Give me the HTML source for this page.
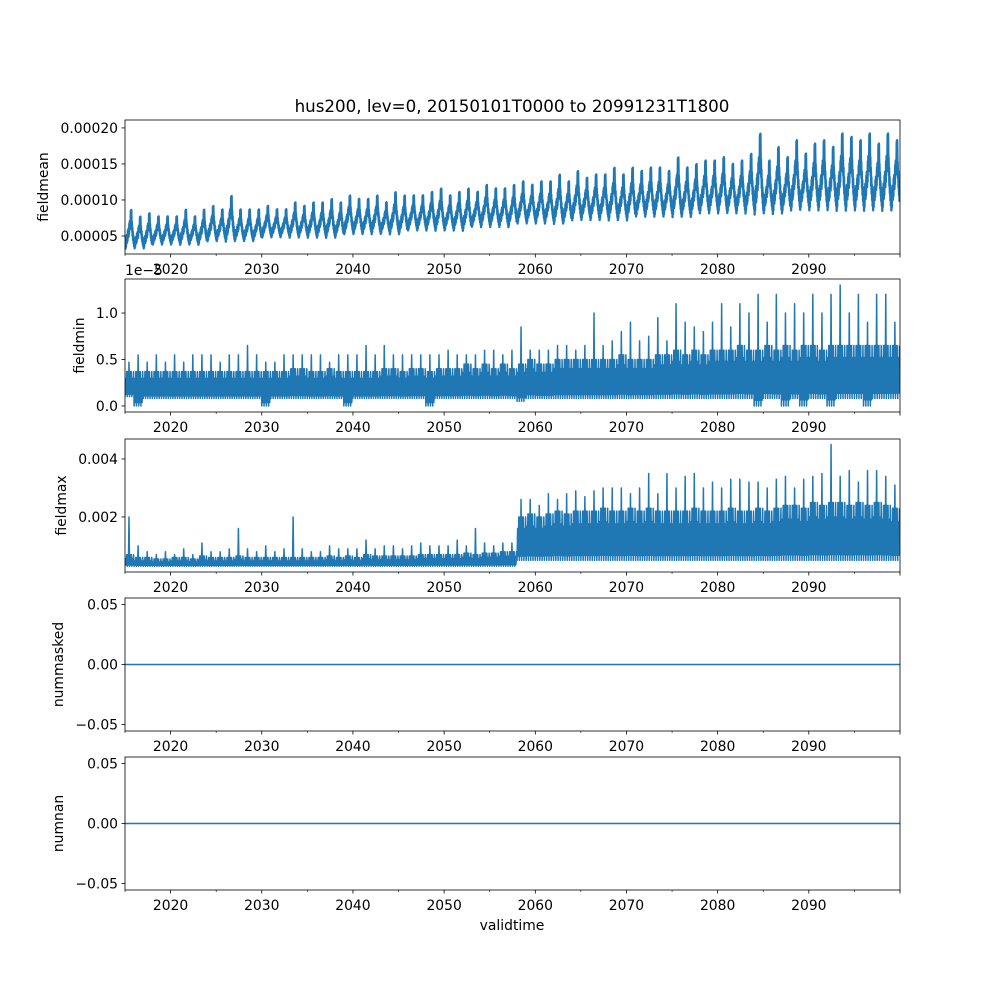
<!DOCTYPE html>
<html><head><meta charset="utf-8"><style>
html,body{margin:0;padding:0;background:#fff}
svg{display:block;font-family:"DejaVu Sans","Liberation Sans",sans-serif}
</style></head><body>
<svg id="fig" width="1000" height="1000" viewBox="0 0 1000 1000"></svg>
<script>
// per-year data, 2015..2099
const startYear = 2015;
const xTicks = [2020,2030,2040,2050,2060,2070,2080,2090];
// fieldmean (units 1e-5)
const p1Max = [9,8,8.5,8,8,8,9,8,9,9.5, 9,11,9,9,9,9.5,9,9,10,9.5, 10,10,10.5,10,11,10.5,10.5,11,10,11.5, 11,11,11,11.5,12,11,11.5,12,11.5,12.5, 12,12,12.5,13,12.5,13,13,14,13,14.5, 13.5,14,14,15,14,15,14.5,15,15,14.5, 16.5,15,15.5,16,16,16.5,15.5,16,17,20, 16,18,16.5,19,17,18.5,19,18,20,19.5, 19,20,18.5,20,19];
const p1Min = [3.5,3.5,3.5,4,4,4,4,4,4,4.5, 4.5,4.5,4.5,4.5,4.5,5,5,5,5,5, 5,5,5,5,5.5,5.5,5.5,5.5,5.5,5.5, 5.5,6,6,6,6,6,6,6,6.5,6.5, 6.5,6.5,6.5,7,7,7,7,7,7,7.5, 7.5,7.5,7.5,7.5,7.5,7.5,8,8,8,8, 8,8,8,8.5,8.5,8.5,8.5,8.5,8.5,8.5, 8.5,8.5,8.5,9,9,9,9,9,9,9, 9,9,9,9,9];
// fieldmin (units 1e-5)
const p2Lo = [0.1,0.0,0.08,0.08,0.08,0.08,0.08,0.08,0.08,0.08, 0.08,0.08,0.08,0.08,0.08,0.0,0.08,0.08,0.08,0.08, 0.08,0.08,0.08,0.08,0.0,0.08,0.08,0.08,0.08,0.08, 0.08,0.08,0.08,0.0,0.08,0.08,0.08,0.08,0.08,0.08, 0.08,0.08,0.08,0.05,0.08,0.08,0.08,0.08,0.08,0.08, 0.08,0.08,0.08,0.08,0.08,0.08,0.08,0.08,0.08,0.08, 0.08,0.08,0.08,0.08,0.08,0.08,0.08,0.08,0.08,0.0, 0.08,0.08,0.0,0.08,0.0,0.08,0.08,0.0,0.08,0.08, 0.08,0.0,0.08,0.08,0.08];
const p2Hi = [0.37,0.37,0.37,0.37,0.37,0.37,0.37,0.37,0.37,0.37, 0.37,0.37,0.37,0.37,0.37,0.37,0.37,0.37,0.4,0.4, 0.37,0.37,0.4,0.37,0.37,0.37,0.37,0.37,0.4,0.4, 0.37,0.4,0.4,0.37,0.4,0.4,0.4,0.45,0.4,0.45, 0.4,0.45,0.4,0.45,0.5,0.45,0.45,0.5,0.5,0.5, 0.5,0.5,0.5,0.5,0.55,0.5,0.5,0.5,0.55,0.55, 0.6,0.55,0.6,0.55,0.6,0.6,0.6,0.65,0.6,0.6, 0.65,0.6,0.65,0.6,0.65,0.65,0.6,0.65,0.65,0.65, 0.65,0.65,0.65,0.65,0.65];
const p2Spike = [0.47,0.55,0.47,0.55,0.47,0.55,0.47,0.55,0.55,0.55, 0.47,0.55,0.55,0.65,0.55,0.47,0.47,0.55,0.55,0.55, 0.55,0.55,0.47,0.55,0.55,0.55,0.65,0.55,0.65,0.55, 0.55,0.55,0.55,0.55,0.55,0.6,0.55,0.55,0.55,0.6, 0.6,0.55,0.6,0.85,0.6,0.6,0.6,0.65,0.65,0.6, 0.65,1.0,0.65,0.7,0.8,0.9,0.7,0.75,0.95,0.7, 1.1,0.9,0.85,0.8,0.9,1.1,0.85,1.1,1.0,1.2, 0.9,1.2,1.0,1.1,1.0,1.2,1.0,1.2,1.3,1.0, 1.2,0.9,1.2,1.2,0.9];
// fieldmax (units 1e-3)
const p3Lo = [0.3,0.3,0.3,0.3,0.3,0.3,0.3,0.3,0.3,0.3, 0.3,0.3,0.3,0.3,0.3,0.3,0.3,0.3,0.3,0.3, 0.3,0.3,0.3,0.3,0.3,0.3,0.3,0.3,0.3,0.3, 0.3,0.3,0.3,0.3,0.3,0.3,0.3,0.3,0.3,0.3, 0.3,0.3,0.3,0.5,0.5,0.5,0.5,0.5,0.5,0.5, 0.5,0.5,0.5,0.5,0.5,0.5,0.5,0.5,0.5,0.5, 0.5,0.5,0.5,0.5,0.5,0.5,0.5,0.5,0.5,0.5, 0.5,0.5,0.5,0.5,0.5,0.5,0.5,0.5,0.5,0.5, 0.5,0.5,0.5,0.5,0.5];
const p3Hi = [0.7,0.6,0.6,0.55,0.55,0.6,0.6,0.55,0.65,0.6, 0.6,0.6,0.65,0.6,0.6,0.6,0.6,0.6,0.6,0.6, 0.6,0.6,0.65,0.6,0.65,0.6,0.7,0.65,0.65,0.65, 0.65,0.65,0.7,0.7,0.7,0.7,0.7,0.75,0.7,0.75, 0.75,0.8,0.8,2.0,2.1,2.0,2.1,2.2,2.1,2.2, 2.2,2.2,2.3,2.2,2.2,2.3,2.2,2.3,2.2,2.2, 2.2,2.2,2.3,2.2,2.2,2.2,2.3,2.2,2.2,2.3, 2.2,2.3,2.4,2.4,2.3,2.5,2.4,2.5,2.5,2.4, 2.5,2.4,2.5,2.4,2.3];
const p3Spike = [2.0,1.0,0.8,0.7,0.8,0.7,0.9,0.7,1.1,0.8, 0.8,0.9,1.6,0.9,0.8,1.0,0.8,0.9,2.0,0.9, 0.8,0.8,1.0,0.9,0.9,0.9,1.2,0.9,1.0,1.0, 0.9,1.0,1.1,1.0,1.0,1.0,1.2,1.0,1.6,1.1, 1.0,1.1,1.1,2.6,2.6,2.4,2.8,2.6,2.8,2.9, 2.7,2.9,3.0,3.0,3.0,2.8,3.0,3.5,2.8,3.5, 3.0,3.4,3.5,3.0,3.2,3.0,3.3,3.3,3.2,3.2, 3.0,3.3,3.4,3.0,3.3,3.4,3.5,4.5,3.4,3.6, 3.2,3.6,3.6,3.4,3.1];
const zeroSeries = [0,0];

const NS='http://www.w3.org/2000/svg';
const svg=document.getElementById('fig');
const C='#1f77b4';
const L=125,R=900;
const FS=13.9;
function X(yr){return L+(yr-2015)/85*(R-L);}
function mk(tag,attrs,parent){const e=document.createElementNS(NS,tag);for(const k in attrs)e.setAttribute(k,attrs[k]);(parent||svg).appendChild(e);return e;}

const panels=[
 {name:'fieldmean',top:120,bot:254,ymin:2.5,ymax:21.1,ticks:[5,10,15,20],fmt:v=>(v*1e-5).toFixed(5),lx:48},
 {name:'fieldmin',top:279,bot:412,ymin:-0.065,ymax:1.366,ticks:[0,0.5,1.0],fmt:v=>v.toFixed(1),lx:84},
 {name:'fieldmax',top:439,bot:572,ymin:0.1,ymax:4.69,ticks:[2,4],fmt:v=>(v*1e-3).toFixed(3),lx:66},
 {name:'nummasked',top:598,bot:731,ymin:-0.0554,ymax:0.0554,ticks:[-0.05,0,0.05],fmt:v=>v.toFixed(2).replace('-','\u2212'),lx:63},
 {name:'numnan',top:757,bot:890,ymin:-0.0554,ymax:0.0554,ticks:[-0.05,0,0.05],fmt:v=>v.toFixed(2).replace('-','\u2212'),lx:63}
];
const shape1=[0.1,0.0,0.25,0.15,0.4,0.3,0.6,0.5,1.0,0.55,0.35,0.2];

panels.forEach((p,pi)=>{
  const g=mk('g',{});
  
  
  const Y=v=>p.bot-(v-p.ymin)/(p.ymax-p.ymin)*(p.bot-p.top);
  const cp=mk('clipPath',{id:'cp'+pi},g);
  mk('rect',{x:L,y:p.top,width:R-L,height:p.bot-p.top},cp);
  let d='';
  if(pi===0){
    for(let i=0;i<p1Max.length;i++){
      const n=36;
      for(let k=0;k<n;k++){
        const f=k/n*12, j=Math.floor(f), fr=f-j;
        const base=shape1[j]*(1-fr)+shape1[(j+1)%12]*fr;
        const amp=(p1Max[i]-p1Min[i]);
        const v=p1Min[i]+base*amp+((k%2)?0.08:-0.08)*amp;
        d+=(d?'L':'M')+X(startYear+i+k/n).toFixed(2)+','+Y(v).toFixed(2);
      }
    }
  } else if(pi===1||pi===2){
    const lo=pi===1?p2Lo:p3Lo, hi=pi===1?p2Hi:p3Hi, sp=pi===1?p2Spike:p3Spike;
    for(let i=0;i<lo.length;i++){
      const n=16;
      for(let k=0;k<n;k++){
        let v=(k%2===0)?lo[i]+(k%4===0?0:(hi[i]-lo[i])*0.1):hi[i]*(k%6===1?0.8:1);
        if(k===7)v=sp[i];
        d+=(d?'L':'M')+X(startYear+i+k/n).toFixed(2)+','+Y(v).toFixed(2);
      }
    }
  } else {
    d='M'+X(2015)+','+Y(zeroSeries[0])+'L'+X(2100)+','+Y(zeroSeries[1]);
  }
  const path=mk('path',{d:d,fill:'none',stroke:C,'stroke-width':pi===0?2.3:1.5,'stroke-linejoin':'round','clip-path':'url(#cp'+pi+')'},g);
  
  
  const fr=mk('rect',{x:L,y:p.top,width:R-L,height:p.bot-p.top,fill:'none',stroke:'#000','stroke-width':0.8},g);
  
  
  p.ticks.forEach(t=>{
    const y=Y(t);
    mk('line',{x1:L-3.5,x2:L,y1:y,y2:y,stroke:'#000','stroke-width':0.8},g);
    const tx=mk('text',{x:L-7,y:y+5,'font-size':FS,'text-anchor':'end',fill:'#000'},g);
    tx.textContent=p.fmt(t);
    
    
  });
  for(let yr=2015;yr<=2100;yr+=5){
    const major=yr%10===0;
    mk('line',{x1:X(yr),x2:X(yr),y1:p.bot,y2:p.bot+(major?3.5:2),stroke:'#000','stroke-width':major?0.8:0.6},g);
  }
  xTicks.forEach(yr=>{
    const tx=mk('text',{x:X(yr),y:p.bot+20,'font-size':FS,'text-anchor':'middle',fill:'#000'},g);
    tx.textContent=yr;
    
    
  });
  const yl=mk('text',{x:0,y:0,'font-size':FS,'text-anchor':'middle',fill:'#000',transform:'translate('+p.lx+','+((p.top+p.bot)/2)+') rotate(-90)'},g);
  yl.textContent=p.name;
  
  
});
const off=mk('text',{x:125,y:275,'font-size':FS,fill:'#000'});
off.textContent='1e\u22125';


const title=mk('text',{x:512,y:112,'font-size':16.7,'text-anchor':'middle',fill:'#000'});
title.textContent='hus200, lev=0, 20150101T0000 to 20991231T1800';


const xl=mk('text',{x:512,y:930,'font-size':FS,'text-anchor':'middle',fill:'#000'});
xl.textContent='validtime';


</script>
</body></html>
